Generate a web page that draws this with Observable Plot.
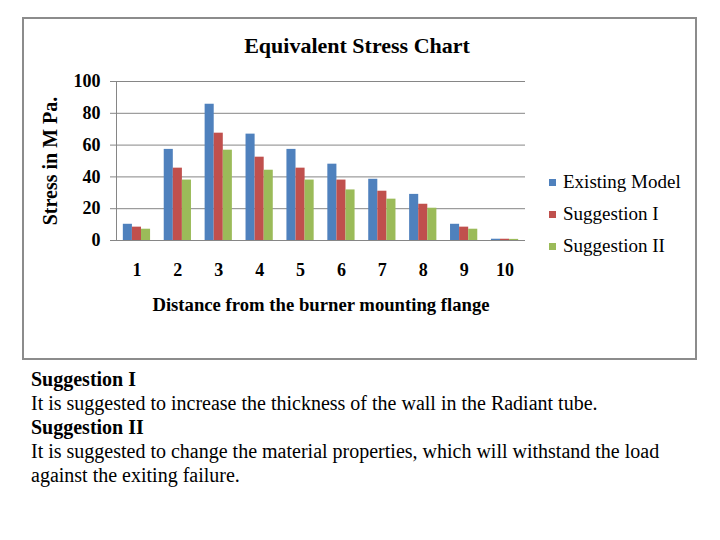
<!DOCTYPE html>
<html>
<head>
<meta charset="utf-8">
<script src="https://cdn.jsdelivr.net/npm/d3@7"></script>
<script src="https://cdn.jsdelivr.net/npm/@observablehq/plot@0.6"></script>
<style>
  html, body { margin: 0; padding: 0; background: #fff; }
  body { width: 720px; height: 540px; position: relative; overflow: hidden; font-family: "Liberation Serif", "Times New Roman", serif; }
  #frame { position: absolute; left: 22px; top: 17px; width: 671px; height: 339px; border: 2px solid #8c8c8c; pointer-events: none; }
  #chart { position: absolute; left: 0; top: 0; }
  #title { position: absolute; left: 0; width: 714px; top: 32px; text-align: center; font-size: 22px; font-weight: bold; line-height: 28px; }
  #legend { position: absolute; left: 549px; top: 166px; font-size: 19px; }
  .row { height: 32px; line-height: 24px; display: flex; align-items: center; }
  .sw { width: 7px; height: 7px; margin-right: 7px; display: inline-block; }
  #notes { position: absolute; left: 31px; top: 367px; font-size: 20px; line-height: 24px; color: #000; white-space: nowrap; }
</style>
</head>
<body>
<div id="chart"></div>
<div id="title"></div>
<div id="legend"></div>
<div id="frame"></div>
<div id="notes"></div>
<script>
const titleText = "Equivalent Stress Chart";
const xLabel = "Distance from the burner mounting flange";
const yLabel = "Stress in M Pa.";
const groups = [1, 2, 3, 4, 5, 6, 7, 8, 9, 10];
const seriesNames = ["Existing Model", "Suggestion I", "Suggestion II"];
const existingModel = [10.2, 57.3, 85.7, 66.9, 57.3, 48.0, 38.5, 29.0, 10.2, 0.8];
const suggestionI   = [8.4, 45.5, 67.5, 52.4, 45.5, 38.0, 31.0, 22.8, 8.4, 0.8];
const suggestionII  = [7.1, 38.0, 56.8, 44.2, 38.0, 31.8, 26.0, 20.3, 7.1, 0.7];
const yTicks = [0, 20, 40, 60, 80, 100];
const colors = ["#4F81BD", "#C0504D", "#9BBB59"];
const noteLines = [
  {text: "Suggestion I", bold: true},
  {text: "It is suggested to increase the thickness of the wall in the Radiant tube.", bold: false},
  {text: "Suggestion II", bold: true},
  {text: "It is suggested to change the material properties, which will withstand the load", bold: false},
  {text: "against the exiting failure.", bold: false}
];

const seriesValues = [existingModel, suggestionI, suggestionII];
const barW = 0.222; // bar width in group units
const rows = [];
groups.forEach((g, i) => {
  seriesNames.forEach((s, j) => {
    rows.push({group: g, series: s, j, value: seriesValues[j][i]});
  });
});

const chart = Plot.plot({
  width: 720,
  height: 360,
  marginLeft: 116,
  marginRight: 195,
  marginTop: 81,
  marginBottom: 120,
  style: {fontFamily: "Liberation Serif, Times New Roman, serif", fontSize: "18px", fontWeight: "bold", background: "transparent", color: "#000"},
  x: {type: "linear", domain: [0.5, 10.5]},
  y: {domain: [0, 100]},
  color: {domain: seriesNames, range: colors},
  marks: [
    Plot.gridY(yTicks, {stroke: "#868686", strokeOpacity: 1}),
    Plot.rect(rows, {
      x1: d => d.group + (d.j - 1.5) * barW,
      x2: d => d.group + (d.j - 0.5) * barW,
      y1: 0,
      y2: "value",
      fill: "series"
    }),
    Plot.ruleX([0.5], {stroke: "#868686"}),
    Plot.axisY(yTicks, {
      tickSize: 6, tickPadding: 10, stroke: "#868686", fill: "#000",
      fontWeight: "bold", tickFormat: d => String(d),
      label: yLabel, labelAnchor: "center", labelOffset: 74, labelArrow: "none"
    }),
    Plot.axisX(groups, {
      tickSize: 0, tickPadding: 23, fill: "#000", fontWeight: "bold",
      tickFormat: d => String(d),
      label: xLabel, labelAnchor: "center", labelOffset: 70, labelArrow: "none"
    })
  ]
});
d3.select(chart).selectAll('[aria-label="y-axis label"]').attr("font-size", 20);
d3.select(chart).selectAll('[aria-label="x-axis label"]').attr("font-size", 18.7);
document.getElementById("chart").appendChild(chart);

document.getElementById("title").textContent = titleText;

const legend = document.getElementById("legend");
seriesNames.forEach((s, i) => {
  const row = document.createElement("div");
  row.className = "row";
  const sw = document.createElement("span");
  sw.className = "sw";
  sw.style.background = colors[i];
  const t = document.createElement("span");
  t.textContent = s;
  row.appendChild(sw);
  row.appendChild(t);
  legend.appendChild(row);
});

const notes = document.getElementById("notes");
noteLines.forEach(l => {
  const d = document.createElement("div");
  d.textContent = l.text;
  if (l.bold) d.style.fontWeight = "bold";
  notes.appendChild(d);
});
</script>
</body>
</html>
